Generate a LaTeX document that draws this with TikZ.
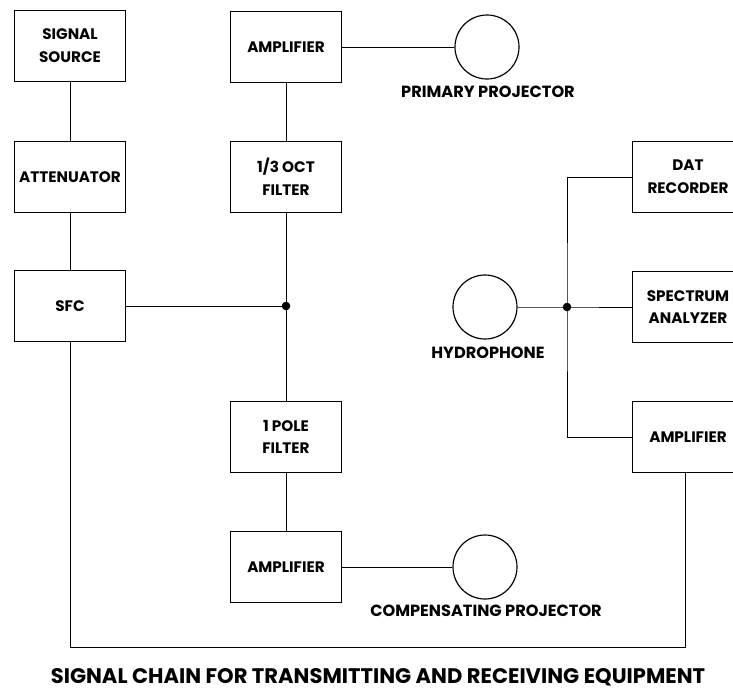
\documentclass[tikz,border=0pt]{standalone}
\usepackage{fontspec}
\setmainfont{Poppins}
\usepackage{tikz}

\tikzset{
	block/.style = {draw, line width=1.5pt, minimum width=3.33cm, minimum height=2.13cm, align=center, inner sep=0pt,
		font=\bfseries\fontsize{13}{19.5}\selectfont},
	projector/.style = {draw, line width=1pt, circle, minimum size=1.92cm, inner sep=0pt},
	caption/.style = {font=\bfseries\fontsize{13.8}{15}\selectfont},
	wire/.style = {line width=0.8pt}
}

\begin{document}
\begin{tikzpicture}[x=0.03cm, y=-0.03cm]
		\useasboundingbox (0,0) rectangle (733,689);
		% transmitting side
		\node[block] (src) at (70,46) {SIGNAL\\SOURCE};
		\node[block] (att) at (70,177) {ATTENUATOR};
		\node[block] (sfc) at (70,306) {SFC};
		\node[block] (ampP) at (286,47) {AMPLIFIER};
		\node[block] (oct) at (286,177) {1/3 OCT\\FILTER};
		\node[block] (pole) at (286,437) {1 POLE\\FILTER};
		\node[block] (ampC) at (286,567) {AMPLIFIER};
		\node[projector] (prim) at (487,47) {};
		\node[caption] at (488,92) {PRIMARY PROJECTOR};
		\node[projector] (comp) at (485,567) {};
		\node[caption] at (486,611) {COMPENSATING PROJECTOR};
		% receiving side
		\node[projector] (hyd) at (485,307) {};
		\node[caption] at (488,353) {HYDROPHONE};
		\node[block] (dat) at (688,177) {DAT\\RECORDER};
		\node[block] (spec) at (688,307) {SPECTRUM\\ANALYZER};
		\node[block] (ampR) at (688,437) {AMPLIFIER};
		\coordinate (jT) at (286,306);
		\coordinate (jR) at (567,307);
		\coordinate (loop) at (685,647);

		\draw[wire] (src) -- (att);
		\draw[wire] (att) -- (sfc);
		\draw[wire] (ampP) -- (prim);
		\draw[wire] (ampP) -- (oct);
		\draw[wire] (oct.south) -- (jT);
		\draw[wire] (sfc) -- (jT);
		\draw[wire] (jT) -- (pole.north);
		\draw[wire] (pole) -- (ampC);
		\draw[wire] (ampC) -- (comp);
		\draw[wire] (hyd) -- (jR) -- (spec);
		\draw[wire] (dat.west) -| (jR) |- (ampR.west);
		\draw[wire] (sfc.south) |- (loop) -- (loop |- ampR.south);
		\filldraw (jT) circle (4);
		\filldraw (jR) circle (4);

		\node[font=\bfseries\fontsize{18}{20}\selectfont] (title) at (378,677) {SIGNAL CHAIN FOR TRANSMITTING AND RECEIVING EQUIPMENT};
	\end{tikzpicture}
\end{document}
